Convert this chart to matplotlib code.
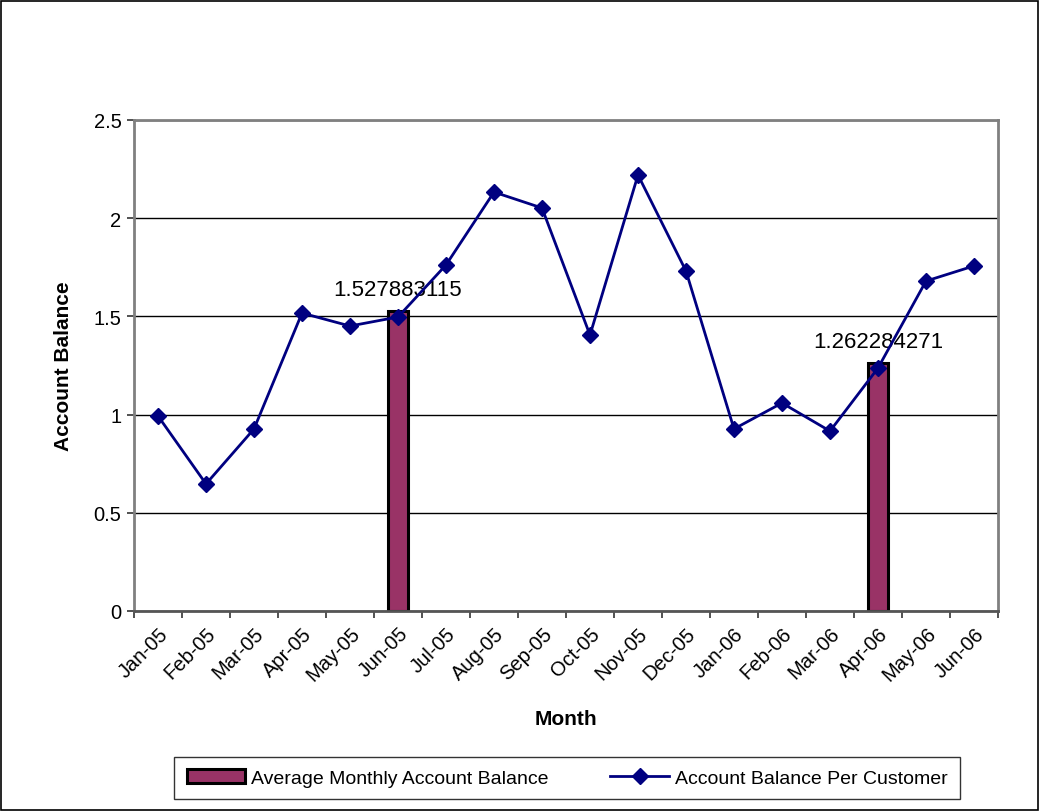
import numpy as np
import matplotlib.pyplot as plt
from matplotlib.patches import Rectangle

plt.rcParams['font.family'] = ['Liberation Sans', 'DejaVu Sans']

months = ['Jan-05', 'Feb-05', 'Mar-05', 'Apr-05', 'May-05', 'Jun-05', 'Jul-05', 'Aug-05', 'Sep-05',
          'Oct-05', 'Nov-05', 'Dec-05', 'Jan-06', 'Feb-06', 'Mar-06', 'Apr-06', 'May-06', 'Jun-06']
per_customer = [0.993, 0.647, 0.927, 1.517, 1.451, 1.497, 1.762, 2.133, 2.052,
                1.405, 2.220, 1.731, 0.927, 1.059, 0.916, 1.237, 1.680, 1.757]
avg_monthly = [np.nan, np.nan, np.nan, np.nan, np.nan, 1.527883115, np.nan, np.nan, np.nan,
               np.nan, np.nan, np.nan, np.nan, np.nan, np.nan, 1.262284271, np.nan, np.nan]

bar_color = '#993366'
line_color = '#000080'
frame_gray = '#808080'

fig = plt.figure(figsize=(10.4, 8.12), dpi=100)
fig.patches.append(Rectangle((0.001, 0.001), 0.997, 0.997, transform=fig.transFigure,
                             fill=False, edgecolor='black', linewidth=1.2))
ax = fig.add_axes([134 / 1040, 1 - 612 / 812, (998 - 134) / 1040, (612 - 121) / 812])

x = np.arange(len(months))
ax.bar(x, avg_monthly, width=0.42, color=bar_color, edgecolor='black', linewidth=2.2,
       label='Average Monthly Account Balance', zorder=2)
for xi, v in zip(x, avg_monthly):
    if not np.isnan(v):
        ax.annotate(f'{v:.9f}', (xi, v), xytext=(0, 8), textcoords='offset points',
                    ha='center', va='bottom', fontsize=16)

ax.plot(x, per_customer, color=line_color, linewidth=2, marker='D', markersize=8,
        label='Account Balance Per Customer', zorder=3)

ax.set_xlim(-0.5, len(months) - 0.5)
ax.set_ylim(0, 2.5)
ax.set_yticks([0, 0.5, 1, 1.5, 2, 2.5])
ax.set_yticklabels(['0', '0.5', '1', '1.5', '2', '2.5'], fontsize=14.5)
ax.yaxis.grid(True, color='black', linewidth=1)
ax.set_axisbelow(True)

ax.set_xticks(x)
ax.set_xticklabels(months, rotation=45, ha='right', va='top', rotation_mode='anchor', fontsize=14.5)
ax.tick_params(axis='x', length=0, pad=9)
ax.set_xticks(np.arange(-0.5, len(months)), minor=True)
ax.tick_params(axis='x', which='minor', length=5, color='#333333', width=1.2)
ax.tick_params(axis='y', length=5, color='#333333', width=1.2, pad=4)

for side in ['left', 'right', 'top']:
    ax.spines[side].set_color(frame_gray)
    ax.spines[side].set_linewidth(2)
ax.spines['bottom'].set_color('#555555')
ax.spines['bottom'].set_linewidth(2)

ax.set_xlabel('Month', fontsize=15, fontweight='bold', labelpad=18)
ax.set_ylabel('Account Balance', fontsize=15, fontweight='bold', labelpad=15)

handles, labels = ax.get_legend_handles_labels()
order = [labels.index('Average Monthly Account Balance'), labels.index('Account Balance Per Customer')]
leg = fig.legend([handles[i] for i in order], [labels[i] for i in order],
                 loc='center', bbox_to_anchor=(567 / 1040, 1 - 779 / 812), ncol=2, fontsize=14,
                 frameon=True, fancybox=False, edgecolor='black', borderpad=0.65,
                 columnspacing=3.2, handlelength=3.0, handletextpad=0.3, borderaxespad=0)
leg.get_frame().set_linewidth(1)

fig.savefig('out.png', dpi=100)
